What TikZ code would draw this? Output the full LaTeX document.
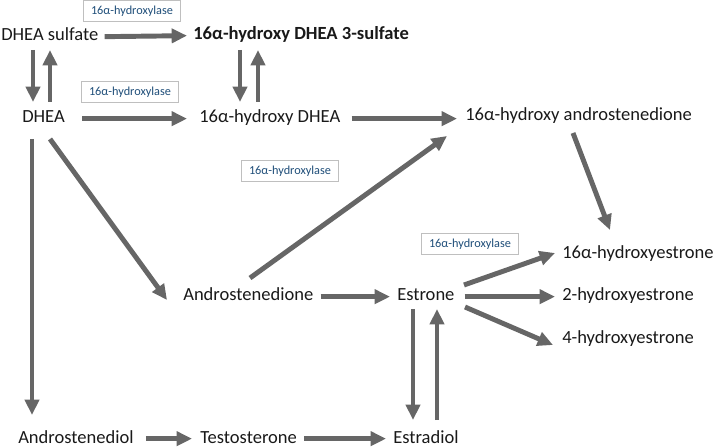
\documentclass[tikz,border=0pt]{standalone}
\usepackage{fontspec}
\setmainfont{Carlito}
\usetikzlibrary{calc,arrows.meta}
\definecolor{arrgray}{HTML}{666666}
\definecolor{boxgray}{HTML}{BFBFBF}
\definecolor{enzblue}{HTML}{1F4E79}
\tikzset{
  lbl/.style={anchor=base west, inner sep=0pt, text height=0.75em, text depth=0.1em, font=\fontsize{13.9pt}{16pt}\selectfont, text=black!90},
  enz/.style={draw=boxgray, line width=0.6pt, inner xsep=5.5pt, inner ysep=4pt, font=\fontsize{9.2pt}{11pt}\selectfont, text=enzblue},
  arr/.style={draw=arrgray, line width=3.7pt, -{Triangle[length=11.5pt,width=10.5pt]}},
}
\begin{document}
\begin{tikzpicture}[x=0.75pt,y=-0.75pt]
\useasboundingbox (0,0) rectangle (713,448);
% species
\node[lbl] (dheas) at (1,41) {DHEA sulfate};
\node[lbl,font=\fontsize{13.9pt}{16pt}\selectfont\bfseries] (sulf3) at (193,40) {16α-hydroxy DHEA 3-sulfate};
\node[lbl] (dhea) at (22,123) {DHEA};
\node[lbl] (ohdhea) at (199,123) {16α-hydroxy DHEA};
\node[lbl] (ohandro) at (465,121) {16α-hydroxy androstenedione};
\node[lbl] (andro) at (183,301) {Androstenedione};
\node[lbl] (estrone) at (397,301) {Estrone};
\node[lbl] (ohe16) at (562,259) {16α-hydroxyestrone};
\node[lbl] (ohe2) at (562,301) {2-hydroxyestrone};
\node[lbl] (ohe4) at (562,344) {4-hydroxyestrone};
\node[lbl] (androdiol) at (18,443) {Androstenediol};
\node[lbl] (testo) at (200,443) {Testosterone};
\node[lbl] (estradiol) at (393,443) {Estradiol};
% enzyme labels
\node[enz] (e1) at (132,11) {16α-hydroxylase};
\node[enz] (e2) at (130,92) {16α-hydroxylase};
\node[enz] (e3) at (290,171) {16α-hydroxylase};
\node[enz] (e4) at (470,244) {16α-hydroxylase};
% arrows
\draw[arr] ($(dheas.east)+(6,0)$) -- ($(sulf3.west)+(-6,0)$);
\draw[arr] ($(dheas.base west)+(32,9)$) -- ($(dhea.base west)+(11,-21)$);
\draw[arr] ($(dhea.base west)+(28,-21)$) -- ($(dheas.base west)+(49,9)$);
\draw[arr] ($(sulf3.base west)+(47,10)$) -- ($(ohdhea.base west)+(41,-21)$);
\draw[arr] ($(ohdhea.base west)+(59,-21)$) -- ($(sulf3.base west)+(65,10)$);
\draw[arr] ($(dhea.east)+(17,0)$) -- ($(ohdhea.west)+(-12,0)$);
\draw[arr] ($(ohdhea.east)+(11,0)$) -- ($(ohandro.west)+(-8,2)$);
\draw[arr] ($(andro.base west)+(67,-23)$) -- ($(ohandro.base west)+(-18,15)$);
\draw[arr] ($(ohandro.base west)+(108,12)$) -- ($(ohe16.base west)+(48,-29)$);
\draw[arr] ($(dhea.base west)+(10,16)$) -- ($(androdiol.base west)+(14,-28)$);
\draw[arr] ($(dhea.base west)+(28,16)$) -- ($(andro.base west)+(-16,-1)$);
\draw[arr] ($(andro.east)+(7,0)$) -- ($(estrone.west)+(-7,0)$);
\draw[arr] ($(estrone.base west)+(67,-16)$) -- ($(ohe16.base west)+(-7,-6)$);
\draw[arr] ($(estrone.east)+(10,0)$) -- ($(ohe2.west)+(-7,0)$);
\draw[arr] ($(estrone.base west)+(68,6)$) -- ($(ohe4.base west)+(-9,1)$);
\draw[arr] ($(estrone.base west)+(16,8)$) -- ($(estradiol.base west)+(20,-23)$);
\draw[arr] ($(estradiol.base west)+(44,-23)$) -- ($(estrone.base west)+(40,8)$);
\draw[arr] ($(androdiol.east)+(12,0)$) -- ($(testo.west)+(-8,0)$);
\draw[arr] ($(testo.east)+(7,0)$) -- ($(estradiol.west)+(-7,0)$);
\end{tikzpicture}
\end{document}
